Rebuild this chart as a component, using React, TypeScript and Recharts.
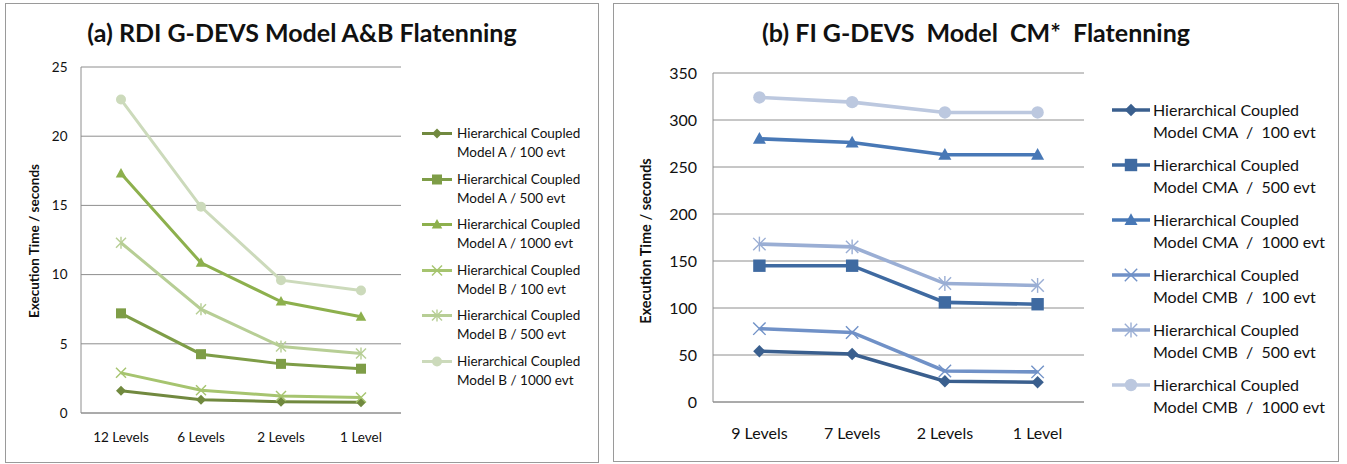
import React from 'react';
import { LineChart, Line, XAxis, YAxis, CartesianGrid, Legend, Label } from 'recharts';

// (a) RDI G-DEVS, seconds per flattening level
const levelsAB = ['12 Levels', '6 Levels', '2 Levels', '1 Level'];
const modelA100 = [1.6, 0.95, 0.82, 0.78];
const modelA500 = [7.2, 4.25, 3.55, 3.2];
const modelA1000 = [17.3, 10.85, 8.05, 6.95];
const modelB100 = [2.9, 1.65, 1.22, 1.12];
const modelB500 = [12.3, 7.5, 4.8, 4.3];
const modelB1000 = [22.65, 14.9, 9.6, 8.85];
const ticksAB = [0, 5, 10, 15, 20, 25];

// (b) FI G-DEVS
const levelsCM = ['9 Levels', '7 Levels', '2 Levels', '1 Level'];
const cma100 = [54, 51, 22, 21];
const cma500 = [145, 145, 106, 104];
const cma1000 = [280, 276, 263, 263];
const cmb100 = [78, 74, 33, 32];
const cmb500 = [168, 165, 126, 124];
const cmb1000 = [324, 319, 308, 308];
const ticksCM = [0, 50, 100, 150, 200, 250, 300, 350];

const FONT = 'Lato, "Open Sans", sans-serif';
const GRID = '#8e8e8e';

type Kind = 'diamond' | 'square' | 'triangle' | 'x' | 'star' | 'circle';
type Series = { key: string; line1: string; line2: string; color: string; kind: Kind; values: number[] };

const seriesAB: Series[] = [
  { key: 'a100', line1: 'Hierarchical Coupled', line2: 'Model A / 100 evt', color: '#71893f', kind: 'diamond', values: modelA100 },
  { key: 'a500', line1: 'Hierarchical Coupled', line2: 'Model A / 500 evt', color: '#7e9d47', kind: 'square', values: modelA500 },
  { key: 'a1000', line1: 'Hierarchical Coupled', line2: 'Model A / 1000 evt', color: '#8db04d', kind: 'triangle', values: modelA1000 },
  { key: 'b100', line1: 'Hierarchical Coupled', line2: 'Model B / 100 evt', color: '#a6c46f', kind: 'x', values: modelB100 },
  { key: 'b500', line1: 'Hierarchical Coupled', line2: 'Model B / 500 evt', color: '#b7ce95', kind: 'star', values: modelB500 },
  { key: 'b1000', line1: 'Hierarchical Coupled', line2: 'Model B / 1000 evt', color: '#ccdabb', kind: 'circle', values: modelB1000 },
];

const seriesCM: Series[] = [
  { key: 'cma100', line1: 'Hierarchical Coupled', line2: 'Model CMA  /  100 evt', color: '#3a5f8e', kind: 'diamond', values: cma100 },
  { key: 'cma500', line1: 'Hierarchical Coupled', line2: 'Model CMA  /  500 evt', color: '#3f6aa1', kind: 'square', values: cma500 },
  { key: 'cma1000', line1: 'Hierarchical Coupled', line2: 'Model CMA  /  1000 evt', color: '#4878b6', kind: 'triangle', values: cma1000 },
  { key: 'cmb100', line1: 'Hierarchical Coupled', line2: 'Model CMB  /  100 evt', color: '#7091c7', kind: 'x', values: cmb100 },
  { key: 'cmb500', line1: 'Hierarchical Coupled', line2: 'Model CMB  /  500 evt', color: '#9aaed4', kind: 'star', values: cmb500 },
  { key: 'cmb1000', line1: 'Hierarchical Coupled', line2: 'Model CMB  /  1000 evt', color: '#bcc8df', kind: 'circle', values: cmb1000 },
];

function toRows(levels: string[], series: Series[]) {
  return levels.map((level, i) => {
    const row: Record<string, string | number> = { level };
    series.forEach(s => { row[s.key] = s.values[i]; });
    return row;
  });
}

function Marker({ kind, cx, cy, r, color }: { kind: Kind; cx: number; cy: number; r: number; color: string }) {
  switch (kind) {
    case 'diamond':
      return <polygon points={`${cx},${cy - r} ${cx + r},${cy} ${cx},${cy + r} ${cx - r},${cy}`} fill={color} />;
    case 'square':
      return <rect x={cx - r} y={cy - r} width={2 * r} height={2 * r} fill={color} />;
    case 'triangle':
      return <polygon points={`${cx},${cy - r * 1.1} ${cx + r * 1.05},${cy + r * 0.8} ${cx - r * 1.05},${cy + r * 0.8}`} fill={color} />;
    case 'x':
      return (
        <g stroke={color} strokeWidth={1.4}>
          <line x1={cx - r} y1={cy - r} x2={cx + r} y2={cy + r} />
          <line x1={cx - r} y1={cy + r} x2={cx + r} y2={cy - r} />
        </g>
      );
    case 'star':
      return (
        <g stroke={color} strokeWidth={1.4}>
          <line x1={cx - r} y1={cy - r} x2={cx + r} y2={cy + r} />
          <line x1={cx - r} y1={cy + r} x2={cx + r} y2={cy - r} />
          <line x1={cx} y1={cy - r * 1.2} x2={cx} y2={cy + r * 1.2} />
        </g>
      );
    default:
      return <circle cx={cx} cy={cy} r={r} fill={color} />;
  }
}

type PanelProps = {
  title: string;
  levels: string[];
  series: Series[];
  ticks: number[];
  left: number;
  width: number;
  margin: { top: number; right: number; bottom: number; left: number };
  fontSize: number;
  xTickMargin: number;
  axisTitleX: number;
  axisTitleSize: number;
  strokeWidth: number;
  markerR: number;
  xPad: number;
  legend: { left: number; top: number; gap: number; lineHeight: number; swatch: number; textGap: number };
};

function Panel(p: PanelProps) {
  const data = toRows(p.levels, p.series);
  const max = p.ticks[p.ticks.length - 1];
  return (
    <div style={{ position: 'absolute', left: p.left, top: 0, width: p.width, height: 464 }}>
      <div
        style={{
          position: 'absolute',
          left: 0,
          top: 17,
          width: '100%',
          textAlign: 'center',
          fontFamily: FONT,
          fontWeight: 700,
          fontSize: 25,
          whiteSpace: 'pre',
          color: '#111',
        }}
      >
        {p.title}
      </div>
      <LineChart width={p.width} height={464} data={data} margin={p.margin} style={{ position: 'absolute', left: 0, top: 0 }}>
        <CartesianGrid vertical={false} stroke={GRID} strokeWidth={1} />
        <XAxis
          dataKey="level"
          height={30}
          padding={{ left: p.xPad, right: p.xPad }}
          axisLine={{ stroke: GRID }}
          tickLine={false}
          tickSize={0}
          tickMargin={p.xTickMargin}
          tick={{ fill: '#111', fontSize: p.fontSize, fontFamily: FONT }}
          interval={0}
        />
        <YAxis
          width={40}
          domain={[0, max]}
          ticks={p.ticks}
          interval={0}
          axisLine={{ stroke: GRID }}
          tickLine={false}
          tickSize={0}
          tickMargin={p.fontSize}
          tick={{ fill: '#111', fontSize: p.fontSize, fontFamily: FONT }}
        >
          <Label
            content={() => (
              <text
                x={p.axisTitleX}
                y={241}
                transform={`rotate(-90 ${p.axisTitleX} 241)`}
                textAnchor="middle"
                dominantBaseline="central"
                fontFamily={FONT}
                fontWeight={700}
                fontSize={p.axisTitleSize}
                fill="#111"
              >
                Execution Time / seconds
              </text>
            )}
          />
        </YAxis>
        <Legend
          verticalAlign="top"
          align="left"
          wrapperStyle={{ position: 'absolute', left: p.legend.left, top: p.legend.top, width: 0, height: 0, overflow: 'visible' }}
          content={() => (
            <div style={{ fontFamily: FONT, fontSize: p.fontSize, color: '#111', width: 240 }}>
              {p.series.map(s => (
                <div key={s.key} style={{ display: 'flex', height: p.legend.gap, whiteSpace: 'pre' }}>
                  <svg width={p.legend.swatch} height={p.legend.lineHeight} style={{ flex: 'none' }}>
                    <line x1={0} x2={p.legend.swatch} y1={p.legend.lineHeight / 2} y2={p.legend.lineHeight / 2} stroke={s.color} strokeWidth={p.strokeWidth} />
                    <Marker kind={s.kind} cx={p.legend.swatch / 2} cy={p.legend.lineHeight / 2} r={p.markerR} color={s.color} />
                  </svg>
                  <div style={{ marginLeft: p.legend.textGap, lineHeight: `${p.legend.lineHeight}px` }}>
                    <div>{s.line1}</div>
                    <div>{s.line2}</div>
                  </div>
                </div>
              ))}
            </div>
          )}
        />
        {p.series.map(s => (
          <Line
            key={s.key}
            type="linear"
            dataKey={s.key}
            stroke={s.color}
            strokeWidth={p.strokeWidth}
            isAnimationActive={false}
            dot={(d: any) => <Marker key={`${s.key}-${d.index}`} kind={s.kind} cx={d.cx} cy={d.cy} r={p.markerR} color={s.color} />}
            activeDot={false}
          />
        ))}
      </LineChart>
    </div>
  );
}

export default function App() {
  return (
    <div style={{ position: 'absolute', left: 0, top: 0, width: 1347, height: 464, background: '#fff', overflow: 'hidden' }}>
      <div style={{ position: 'absolute', left: 5, top: 3, width: 594, height: 460, border: '1px solid #9a9a9a', boxSizing: 'border-box' }} />
      <div style={{ position: 'absolute', left: 613, top: 3, width: 726, height: 459, border: '1px solid #9a9a9a', boxSizing: 'border-box' }} />
      <Panel
        title="(a) RDI G-DEVS Model A&B Flatenning"
        levels={levelsAB}
        series={seriesAB}
        ticks={ticksAB}
        left={5}
        width={594}
        margin={{ top: 67, right: 594 - 396, bottom: 464 - 413 - 30, left: 76 - 40 }}
        fontSize={13.5}
        xTickMargin={19}
        axisTitleX={29}
        axisTitleSize={13.5}
        strokeWidth={3}
        markerR={5}
        xPad={40}
        legend={{ left: 417, top: 124, gap: 45.6, lineHeight: 19, swatch: 30, textGap: 5 }}
      />
      <Panel
        title="(b) FI G-DEVS  Model  CM*  Flatenning"
        levels={levelsCM}
        series={seriesCM}
        ticks={ticksCM}
        left={613}
        width={726}
        margin={{ top: 73, right: 726 - 471, bottom: 464 - 402 - 30, left: 100 - 40 }}
        fontSize={16}
        xTickMargin={26}
        axisTitleX={32}
        axisTitleSize={14.5}
        strokeWidth={3.6}
        markerR={6.2}
        xPad={46.4}
        legend={{ left: 499, top: 99, gap: 55, lineHeight: 22, swatch: 38, textGap: 3 }}
      />
    </div>
  );
}
